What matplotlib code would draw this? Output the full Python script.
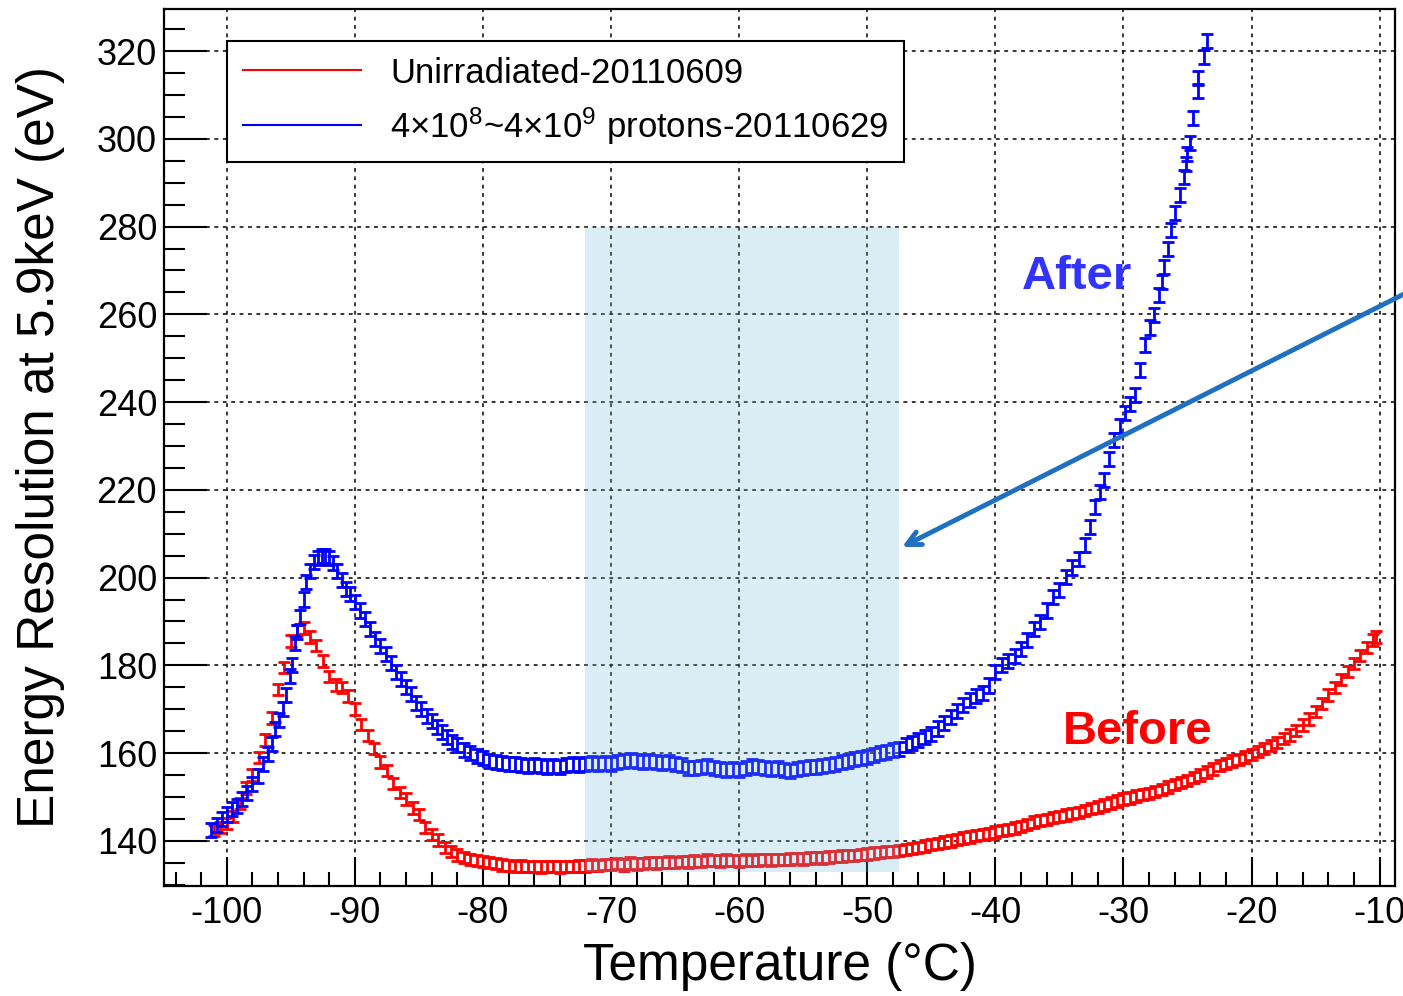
import matplotlib
matplotlib.use("Agg")
import matplotlib.pyplot as plt
from matplotlib.ticker import MultipleLocator
from matplotlib.patches import Rectangle
from matplotlib.lines import Line2D

plt.rcParams['font.family'] = ['Liberation Sans', 'DejaVu Sans']
plt.rcParams['mathtext.fontset'] = 'custom'
plt.rcParams['mathtext.rm'] = 'Liberation Sans'
plt.rcParams['mathtext.it'] = 'Liberation Sans:italic'
plt.rcParams['mathtext.bf'] = 'Liberation Sans:bold'
plt.rcParams['axes.unicode_minus'] = False

# ---------------- data ----------------
red_T = [-101.0, -100.5, -100.0, -99.5, -99.0, -98.5, -98.0, -97.5, -97.0, -96.5,
         -96.0, -95.5, -95.0, -94.5, -94.0, -93.5, -93.0, -92.5, -92.0, -91.5,
         -91.0, -90.5, -90.0, -89.5, -89.0, -88.5, -88.0, -87.5, -87.0, -86.5,
         -86.0, -85.5, -85.0, -84.5, -84.0, -83.5, -83.0, -82.5, -82.0, -81.5,
         -81.0, -80.5, -80.0, -79.5, -79.0, -78.5, -78.0, -77.5, -77.0, -76.5,
         -76.0, -75.5, -75.0, -74.5, -74.0, -73.5, -73.0, -72.5, -72.0, -71.5,
         -71.0, -70.5, -70.0, -69.5, -69.0, -68.5, -68.0, -67.5, -67.0, -66.5,
         -66.0, -65.5, -65.0, -64.5, -64.0, -63.5, -63.0, -62.5, -62.0, -61.5,
         -61.0, -60.5, -60.0, -59.5, -59.0, -58.5, -58.0, -57.5, -57.0, -56.5,
         -56.0, -55.5, -55.0, -54.5, -54.0, -53.5, -53.0, -52.5, -52.0, -51.5,
         -51.0, -50.5, -50.0, -49.5, -49.0, -48.5, -48.0, -47.5, -47.0, -46.5,
         -46.0, -45.5, -45.0, -44.5, -44.0, -43.5, -43.0, -42.5, -42.0, -41.5,
         -41.0, -40.5, -40.0, -39.5, -39.0, -38.5, -38.0, -37.5, -37.0, -36.5,
         -36.0, -35.5, -35.0, -34.5, -34.0, -33.5, -33.0, -32.5, -32.0, -31.5,
         -31.0, -30.5, -30.0, -29.5, -29.0, -28.5, -28.0, -27.5, -27.0, -26.5,
         -26.0, -25.5, -25.0, -24.5, -24.0, -23.5, -23.0, -22.5, -22.0, -21.5,
         -21.0, -20.5, -20.0, -19.5, -19.0, -18.5, -18.0, -17.5, -17.0, -16.5,
         -16.0, -15.5, -15.0, -14.5, -14.0, -13.5, -13.0, -12.5, -12.0, -11.5,
         -11.0, -10.5, -10.3]
red_E = [142.3, 143.0, 144.0, 145.5, 148.5, 152.0, 155.0, 159.0, 163.0, 168.0,
         174.5, 179.5, 185.5, 188.0, 188.5, 186.5, 184.5, 181.0, 177.5, 175.5,
         175.0, 173.0, 170.0, 166.5, 164.0, 161.0, 158.0, 156.0, 153.0, 151.0,
         149.5, 147.5, 146.0, 143.0, 141.5, 140.2, 138.5, 137.5, 136.8, 136.2,
         135.8, 135.5, 135.3, 135.0, 134.8, 134.5, 134.4, 134.2, 134.3, 134.1,
         134.2, 134.0, 134.1, 134.2, 134.0, 134.2, 134.1, 134.3, 134.3, 134.5,
         134.4, 134.6, 134.6, 134.8, 134.5, 134.9, 134.7, 134.8, 135.0, 134.9,
         135.1, 135.2, 135.0, 135.3, 135.2, 135.4, 135.3, 135.6, 135.5, 135.4,
         135.6, 135.5, 135.4, 135.6, 135.5, 135.6, 135.7, 135.6, 135.8, 135.7,
         135.9, 136.0, 135.9, 136.1, 136.2, 136.1, 136.3, 136.4, 136.5, 136.6,
         136.7, 136.9, 137.0, 137.2, 137.3, 137.5, 137.6, 137.8, 138.0, 138.2,
         138.5, 138.8, 139.1, 139.4, 139.7, 140.0, 140.3, 140.6, 140.9, 141.2,
         141.4, 141.7, 142.0, 142.3, 142.6, 142.9, 143.3, 143.7, 144.3, 144.6,
         144.9, 145.3, 145.6, 145.9, 146.2, 146.5, 146.9, 147.3, 147.7, 148.2,
         148.6, 149.1, 149.5, 149.8, 150.2, 150.5, 150.8, 151.2, 151.7, 152.3,
         152.9, 153.3, 153.8, 154.4, 155.0, 155.7, 156.4, 157.1, 157.6, 158.2,
         158.6, 159.1, 159.7, 160.3, 161.0, 161.7, 162.4, 163.3, 164.1, 165.2,
         166.4, 167.8, 169.5, 171.3, 173.2, 175.0, 176.8, 178.6, 180.4, 182.2,
         184.0, 185.8, 186.5]
red_err = 1.3

blue_T = [-101.2, -100.8, -100.4, -100.0, -99.6, -99.2, -98.8, -98.4, -98.0, -97.6,
          -97.2, -96.8, -96.5, -96.2, -95.9, -95.6, -95.4, -95.1, -94.9, -94.7,
          -94.5, -94.3, -94.0, -93.8, -93.5, -93.2, -92.9, -92.6, -92.3, -92.0,
          -91.7, -91.4, -91.0, -90.7, -90.4, -90.0, -89.6, -89.2, -88.8, -88.4,
          -88.0, -87.6, -87.2, -86.8, -86.4, -86.0, -85.6, -85.2, -84.8, -84.4,
          -84.0, -83.6, -83.2, -82.8, -82.4, -82.0, -81.5, -81.0, -80.5, -80.0,
          -79.5, -79.0, -78.5, -78.0, -77.5, -77.0, -76.5, -76.0, -75.5, -75.0,
          -74.5, -74.0, -73.5, -73.0, -72.5, -72.0, -71.5, -71.0, -70.5, -70.0,
          -69.5, -69.0, -68.5, -68.0, -67.5, -67.0, -66.5, -66.0, -65.5, -65.0,
          -64.5, -64.0, -63.5, -63.0, -62.5, -62.0, -61.5, -61.0, -60.5, -60.0,
          -59.5, -59.0, -58.5, -58.0, -57.5, -57.0, -56.5, -56.0, -55.5, -55.0,
          -54.5, -54.0, -53.5, -53.0, -52.5, -52.0, -51.5, -51.0, -50.5, -50.0,
          -49.5, -49.0, -48.5, -48.0, -47.5, -47.0, -46.5, -46.0, -45.5, -45.0,
          -44.5, -44.0, -43.5, -43.0, -42.5, -42.0, -41.5, -41.0, -40.5, -40.0,
          -39.5, -39.0, -38.5, -38.0, -37.5, -37.0, -36.5, -36.0, -35.5, -35.0,
          -34.5, -34.0, -33.5, -33.0, -32.6, -32.2, -31.8, -31.5, -31.1, -30.7,
          -30.3, -29.9, -29.5, -29.1, -28.7, -28.3, -27.9, -27.6, -27.2, -27.0,
          -26.8, -26.5, -26.3, -26.0, -25.6, -25.3, -25.1, -25.0, -24.8, -24.6,
          -24.2, -24.2, -23.7, -23.5]
blue_E = [142.5, 143.5, 145.0, 146.0, 147.2, 148.0, 149.5, 151.0, 153.0, 154.8,
          157.5, 159.8, 162.0, 165.5, 167.5, 170.0, 173.3, 177.5, 180.0, 185.0,
          187.5, 191.0, 195.0, 199.0, 201.5, 203.5, 204.5, 205.0, 205.0, 204.5,
          203.3, 201.5, 199.5, 197.5, 196.3, 194.5, 192.5, 190.5, 188.3, 186.0,
          184.5, 182.5, 180.5, 178.5, 176.8, 175.0, 173.5, 171.5, 170.0, 168.5,
          167.2, 166.0, 164.8, 163.6, 162.5, 161.8, 160.6, 160.1, 159.3, 158.8,
          158.3, 158.0, 157.7, 157.5, 157.6, 157.2, 157.0, 157.3, 157.0, 156.9,
          157.1, 156.9, 157.2, 157.4, 157.2, 157.5, 157.7, 157.4, 157.8, 157.6,
          158.0, 158.3, 158.4, 158.2, 158.0, 158.3, 157.9, 157.7, 157.9, 157.5,
          157.2, 156.7, 156.5, 156.9, 157.0, 156.7, 156.4, 156.2, 156.4, 156.1,
          156.6, 157.0, 156.8, 156.6, 156.3, 156.5, 156.2, 156.0, 156.3, 156.6,
          156.9, 156.8, 157.0, 157.3, 157.6, 158.0, 158.3, 158.6, 158.9, 159.2,
          159.6, 160.0, 160.3, 160.6, 160.9, 161.8, 162.3, 162.9, 163.6, 164.4,
          165.6, 166.8, 168.2, 169.6, 170.9, 172.1, 173.0, 173.8, 175.4, 178.5,
          180.0, 181.0, 182.2, 183.7, 185.7, 188.2, 189.8, 192.5, 195.5, 197.2,
          200.2, 202.3, 204.2, 207.4, 211.5, 216.0, 219.5, 222.2, 227.0, 231.3,
          234.5, 237.5, 239.5, 241.6, 247.3, 253.0, 257.0, 259.8, 264.4, 267.4,
          270.8, 275.0, 279.2, 283.0, 287.1, 291.3, 294.3, 296.6, 299.0, 304.7,
          310.8, 313.8, 318.7, 322.4]
blue_err = 1.6

legend_labels = ["Unirradiated-20110609", r"4×10$^8$~4×10$^9$ protons-20110629"]
x_ticks = [-100, -90, -80, -70, -60, -50, -40, -30, -20, -10]
y_ticks = [140, 160, 180, 200, 220, 240, 260, 280, 300, 320]
band_T = (-72.0, -47.5)
band_E = (133.0, 280.0)

# ---------------- figure ----------------
fig = plt.figure(figsize=(14.03, 9.96), dpi=100)
ax = fig.add_axes([164/1403, 1-886/996, (1395-164)/1403, (886-9)/996])
ax.set_xlim(-104.9, -8.8)
ax.set_ylim(129.7, 329.6)

ax.errorbar(red_T, red_E, yerr=red_err, fmt='none', ecolor='#ff0000',
            elinewidth=2.0, capsize=4.5, capthick=2.0, zorder=2)
ax.errorbar(blue_T, blue_E, yerr=blue_err, fmt='none', ecolor='#0000ff',
            elinewidth=2.0, capsize=4.5, capthick=2.0, zorder=2)

ax.add_patch(Rectangle((band_T[0], band_E[0]), band_T[1]-band_T[0], band_E[1]-band_E[0],
                       facecolor='#72b6d5', alpha=0.26, edgecolor='none', zorder=3))

ax.set_xticks(x_ticks)
ax.set_yticks(y_ticks)
ax.xaxis.set_minor_locator(MultipleLocator(2))
ax.yaxis.set_minor_locator(MultipleLocator(5))
ax.tick_params(axis='x', which='major', direction='in', length=21, width=1.5,
               labelsize=26, pad=7, top=False)
ax.tick_params(axis='x', which='minor', direction='in', length=10, width=1.5, top=False)
ax.tick_params(axis='y', which='major', direction='in', length=31, width=1.5,
               labelsize=26, pad=5, right=False)
ax.tick_params(axis='y', which='minor', direction='in', length=15, width=1.5, right=False)
for s in ax.spines.values():
    s.set_linewidth(1.6)
ax.grid(True, which='major', color='black', linestyle=(0, (2.5, 3)), linewidth=1.1, zorder=1)
ax.set_axisbelow(True)

handles = [Line2D([], [], color='#ff0000', lw=1.5), Line2D([], [], color='#0000ff', lw=1.5)]
leg = ax.legend(handles, legend_labels, loc='upper left',
                bbox_to_anchor=((227-164)/1231, (886-41)/877), borderaxespad=0,
                fontsize=25, handlelength=3.4, handletextpad=0.85, borderpad=0.45,
                labelspacing=0.45, fancybox=False, framealpha=1, edgecolor='black')
leg.get_frame().set_linewidth(1.5)
leg.set_zorder(5)

fig.text(41/1403, 1-447/996, "Energy Resolution at 5.9keV (eV)", rotation=90,
         ha='center', va='center', fontsize=37)
fig.text(780/1403, 1-966/996, "Temperature (°C)", ha='center', va='center', fontsize=37)

fig.text(1077/1403, 1-277/996, "After", ha='center', va='center', fontsize=34,
         fontweight='bold', color='#3333ff')
fig.text(1138/1403, 1-732/996, "Before", ha='center', va='center', fontsize=34,
         fontweight='bold', color='#ff0000')

ax.annotate("", xy=(902/1403, 1-547/996), xycoords='figure fraction',
            xytext=(1408/1403, 1-292/996), textcoords='figure fraction',
            arrowprops=dict(arrowstyle='->,head_length=1.0,head_width=0.5',
                            color='#1f70c1', lw=3.5, shrinkA=0, shrinkB=0),
            annotation_clip=False, zorder=6)

fig.savefig("out.png", dpi=100)
